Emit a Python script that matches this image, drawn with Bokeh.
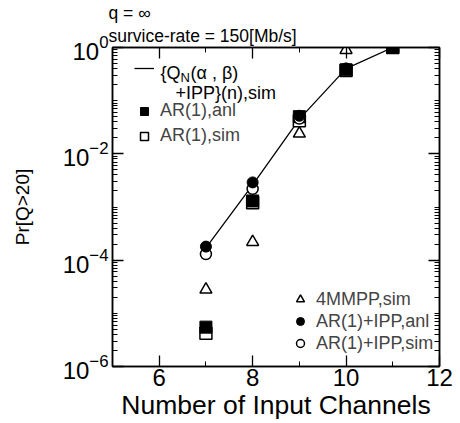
from bokeh.plotting import figure
from bokeh.models import FixedTicker, LinearAxis, LogAxis, Legend, LegendItem, Label, Title
from bokeh.embed import file_html
from bokeh.resources import INLINE

# ---- data ----
channels = [7, 8, 9, 10, 11]
qn_ipp_sim = [1.7e-4, 2.6e-3, 4.5e-2, 0.40, 1.0]    # line
ar1_anl = [5.5e-6, 1.3e-3, 5.0e-2, 0.38, 1.0]       # filled square
ar1_sim = [4.2e-6, 1.2e-3, 4.2e-2, 0.37, 1.0]       # open square
mmpp4_sim = [2.8e-5, 2.2e-4, 2.4e-2, 0.90, 1.0]     # open triangle
ar1_ipp_anl = [1.8e-4, 2.9e-3, 5.2e-2, 0.40, 1.0]   # filled circle
ar1_ipp_sim = [1.3e-4, 2.2e-3, 4.6e-2, 0.40, 1.0]   # open circle

x_major = [6, 8, 10, 12]
x_minor = [5, 7, 9, 11]
y_major = [1e-6, 1e-4, 1e-2, 1e0]
y_minor = [m * 10.0 ** k for k in range(-6, 0) for m in range(1, 10) if not (m == 1 and k % 2 == 0)]

FONT = "Liberation Sans"

p = figure(width=460, height=423, x_range=(5, 12), y_range=(1e-6, 1.0),
           y_axis_type="log", output_backend="svg", toolbar_location=None,
           min_border_left=112, min_border_right=21, min_border_top=47, min_border_bottom=57)
p.grid.visible = False
p.outline_line_color = "black"
p.outline_line_width = 1.5
p.background_fill_color = "white"
p.border_fill_color = "white"

xt = FixedTicker(ticks=x_major, minor_ticks=x_minor)
yt = FixedTicker(ticks=y_major, minor_ticks=y_minor)

p.xaxis[0].ticker = xt
p.yaxis[0].ticker = yt

def style_axis(ax, show_labels):
    ax.axis_line_color = "black"
    ax.axis_line_width = 1.5
    ax.major_tick_in = 11
    ax.major_tick_out = 0
    ax.minor_tick_in = 5
    ax.minor_tick_out = 0
    ax.major_tick_line_width = 1.3
    ax.minor_tick_line_width = 1.0
    ax.major_tick_line_color = "black"
    ax.minor_tick_line_color = "black"
    if show_labels:
        ax.major_label_text_font = FONT
        ax.major_label_text_font_size = "24px"
        ax.major_label_text_color = "black"
    else:
        ax.major_label_text_font_size = "1px"
        ax.major_label_text_alpha = 0
        ax.major_label_standoff = 0

style_axis(p.xaxis[0], True)
style_axis(p.yaxis[0], True)
p.xaxis[0].major_label_standoff = 2
p.yaxis[0].major_label_standoff = 4

p.xaxis[0].axis_label = "Number of Input Channels"
p.xaxis[0].axis_label_text_font = FONT
p.xaxis[0].axis_label_text_font_size = "26.5px"
p.xaxis[0].axis_label_text_font_style = "normal"
p.xaxis[0].axis_label_text_color = "black"
p.xaxis[0].axis_label_standoff = 1

p.yaxis[0].axis_label = "Pr[Q>20]"
p.yaxis[0].axis_label_text_font = FONT
p.yaxis[0].axis_label_text_font_size = "19px"
p.yaxis[0].axis_label_text_font_style = "normal"
p.yaxis[0].axis_label_text_color = "black"
p.yaxis[0].axis_label_standoff = 27

top_ax = LinearAxis(ticker=xt)
style_axis(top_ax, False)
p.add_layout(top_ax, "above")
right_ax = LogAxis(ticker=yt)
style_axis(right_ax, False)
p.add_layout(right_ax, "right")

# header texts above the frame
for txt, so in [("survice-rate = 150[Mb/s]", 3), ("q = \u221e", 0)]:
    p.add_layout(Title(text=txt, align="left", offset=-4, text_font=FONT,
                       text_font_size="17.5px", text_font_style="normal",
                       text_color="black", standoff=so), "above")

# ---- glyphs ----
line_r = p.line(channels, qn_ipp_sim, line_color="black", line_width=1.3)
tri_r = p.scatter(channels, mmpp4_sim, marker="triangle", size=12, fill_color="white",
                  line_color="black", line_width=1.5)
osq_r = p.scatter(channels, ar1_sim, marker="square", size=12, fill_color="white",
                  line_color="black", line_width=1.5)
fsq_r = p.scatter(channels, ar1_anl, marker="square", size=12, fill_color="black",
                  line_color="black")
oci_r = p.scatter(channels, ar1_ipp_sim, marker="circle", size=11, fill_color="white",
                  line_color="black", line_width=1.5)
fci_r = p.scatter(channels, ar1_ipp_anl, marker="circle", size=11, fill_color="black",
                  line_color="black")

def make_legend(items, loc, lh):
    lg = Legend(items=items, location=loc, padding=0, spacing=0, margin=0,
                border_line_alpha=0, background_fill_alpha=0,
                label_text_font=FONT, label_text_font_size="18px",
                label_height=lh, glyph_height=20, glyph_width=20, label_standoff=6)
    p.add_layout(lg, "center")
    return lg

make_legend([LegendItem(label="\u00a0", renderers=[line_r])], (22, 287), 22)
make_legend([LegendItem(label="AR(1),anl", renderers=[fsq_r]),
             LegendItem(label="AR(1),sim", renderers=[osq_r])], (22, 218), 25)
make_legend([LegendItem(label="4MMPP,sim", renderers=[tri_r]),
             LegendItem(label="AR(1)+IPP,anl", renderers=[fci_r]),
             LegendItem(label="AR(1)+IPP,sim", renderers=[oci_r])], (178, 12), 22)

def add_text(txt, x, y, size="18px"):
    p.add_layout(Label(x=x, y=y, x_units="screen", y_units="screen", text=txt,
                       text_font=FONT, text_font_size=size, text_baseline="middle",
                       text_color="black"))

add_text("{Q", 48, 294)
add_text("N", 68, 289, "13px")
add_text("(\u03b1 , \u03b2)", 78, 294)
add_text("+IPP}(n),sim", 63, 274)

open("out.html", "w").write(file_html(p, INLINE))
